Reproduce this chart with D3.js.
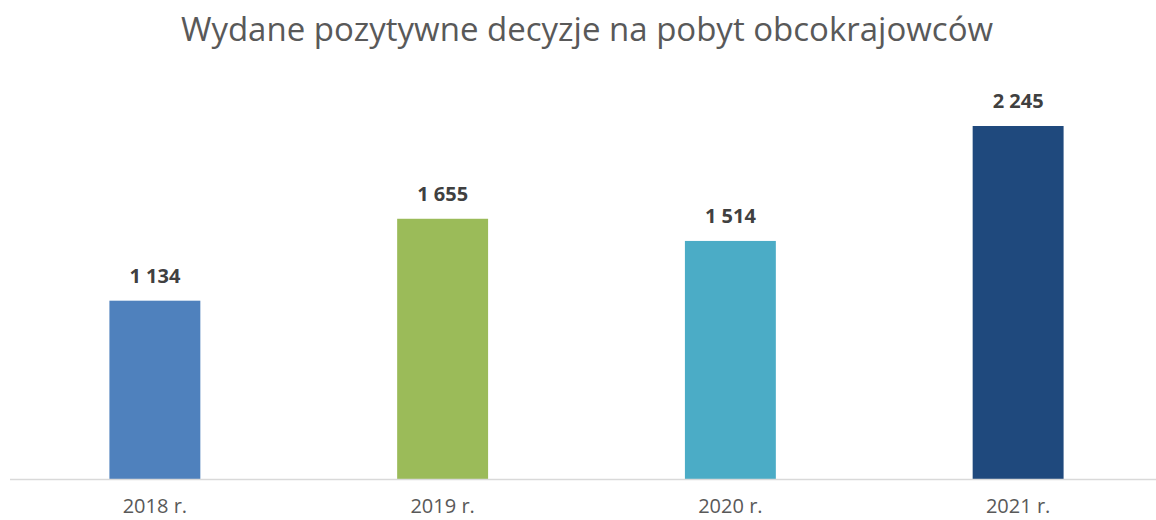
<!DOCTYPE html>
<html>
<head>
<meta charset="utf-8">
<script src="https://cdn.jsdelivr.net/npm/d3@7"></script>
<style>
  body { margin: 0; background: #fff; }
  svg text { font-family: "Open Sans", "Liberation Sans", sans-serif; }
</style>
</head>
<body>
<div id="chart"></div>
<script>
// Chart size
const width = 1156;
const height = 520;

// Data
const years = ["2018 r.", "2019 r.", "2020 r.", "2021 r."];
const decisions = [1134, 1655, 1514, 2245];
const barColors = ["#4f81bd", "#9bbb59", "#4bacc6", "#1f497d"];

const title = "Wydane pozytywne decyzje na pobyt obcokrajowców";

const baseY = 479;

const svg = d3.select("#chart").append("svg")
    .attr("width", width)
    .attr("height", height);

// Scales
const x = d3.scaleBand()
    .domain(years)
    .range([11, 1162])
    .paddingInner(0.684)
    .paddingOuter(0.342);

const y = d3.scaleLinear()
    .domain([0, 2245])
    .range([baseY, 126]);

// Title
svg.append("text")
    .attr("x", 587)
    .attr("y", 41)
    .attr("text-anchor", "middle")
    .attr("fill", "#595959")
    .style("font-size", "33px")
    .text(title);

// Bars
svg.selectAll("rect.bar")
    .data(decisions)
    .enter()
    .append("rect")
    .attr("class", "bar")
    .attr("x", (d, i) => x(years[i]))
    .attr("y", d => y(d))
    .attr("width", x.bandwidth())
    .attr("height", d => baseY - y(d))
    .attr("fill", (d, i) => barColors[i]);

// Value labels (space as thousands separator)
const fmt = d => d3.format(",")(d).replace(",", " ");
svg.selectAll("text.value")
    .data(decisions)
    .enter()
    .append("text")
    .attr("class", "value")
    .attr("x", (d, i) => x(years[i]) + x.bandwidth() / 2)
    .attr("y", d => y(d) - 18)
    .attr("text-anchor", "middle")
    .attr("fill", "#404040")
    .style("font-size", "20px")
    .style("font-weight", "bold")
    .text(fmt);

// Baseline
svg.append("line")
    .attr("x1", 10)
    .attr("x2", width)
    .attr("y1", baseY + 0.5)
    .attr("y2", baseY + 0.5)
    .attr("stroke", "#d9d9d9")
    .attr("stroke-width", 1.5);

// Category labels
const xAxis = svg.append("g")
    .attr("transform", `translate(0,${baseY})`)
    .call(d3.axisBottom(x).tickSize(0).tickPadding(20));
xAxis.select(".domain").remove();
xAxis.selectAll("text")
    .attr("fill", "#595959")
    .style("font-size", "20px")
    .style("font-family", "'Open Sans', 'Liberation Sans', sans-serif");
</script>
</body>
</html>
